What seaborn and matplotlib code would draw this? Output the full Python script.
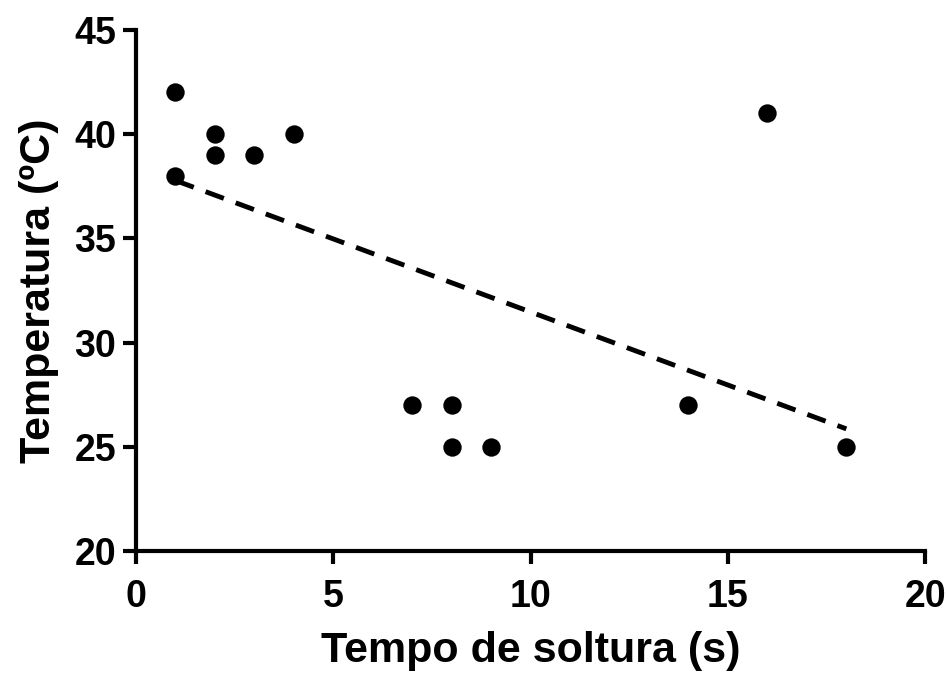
import numpy as np
import pandas as pd
import matplotlib
matplotlib.use("Agg")
import matplotlib.pyplot as plt
import seaborn as sns

# values
tempo = [1, 1, 2, 2, 3, 4, 7, 8, 8, 9, 14, 16, 18]
temperatura = [42, 38, 40, 39, 39, 40, 27, 27, 25, 25, 27, 41, 25]
x_ticks = [0, 5, 10, 15, 20]
y_ticks = [20, 25, 30, 35, 40, 45]

df = pd.DataFrame({"tempo": tempo, "temp": temperatura})

sns.set_style("ticks")
plt.rcParams['font.family'] = ['Liberation Sans', 'DejaVu Sans']
plt.rcParams['font.weight'] = 'bold'
plt.rcParams['text.color'] = 'black'
plt.rcParams['axes.labelcolor'] = 'black'
plt.rcParams['xtick.color'] = 'black'
plt.rcParams['ytick.color'] = 'black'

fig = plt.figure(figsize=(9.48, 6.75), dpi=100)
ax = fig.add_axes([0.1435, 0.1837, 0.8325, 0.772])

# linear fit, dashed
sns.regplot(data=df, x="tempo", y="temp", ax=ax, ci=None, scatter=False,
            line_kws=dict(color="black", lw=3.5, ls=(0, (4, 2.6))))
sns.scatterplot(data=df, x="tempo", y="temp", ax=ax, color="black",
                s=175, edgecolor="black", linewidth=0, zorder=3, clip_on=False)

ax.set_xlim(0, 20)
ax.set_ylim(20, 45)
ax.set_xticks(x_ticks)
ax.set_yticks(y_ticks)
ax.set_xticklabels([str(t) for t in x_ticks], fontsize=27, fontweight="bold")
ax.set_yticklabels([str(t) for t in y_ticks], fontsize=27, fontweight="bold")
ax.tick_params(axis="x", width=3, length=9.5, pad=11)
ax.tick_params(axis="y", width=3, length=9.5, pad=5)

sns.despine(ax=ax)
for side in ["left", "bottom"]:
    ax.spines[side].set_linewidth(3)
    ax.spines[side].set_color("black")

ax.set_xlabel("Tempo de soltura (s)", fontsize=31, fontweight="bold", labelpad=11)
ax.set_ylabel("Temperatura (ºC)", fontsize=31, fontweight="bold", labelpad=11)

fig.savefig("out.png", dpi=100)
